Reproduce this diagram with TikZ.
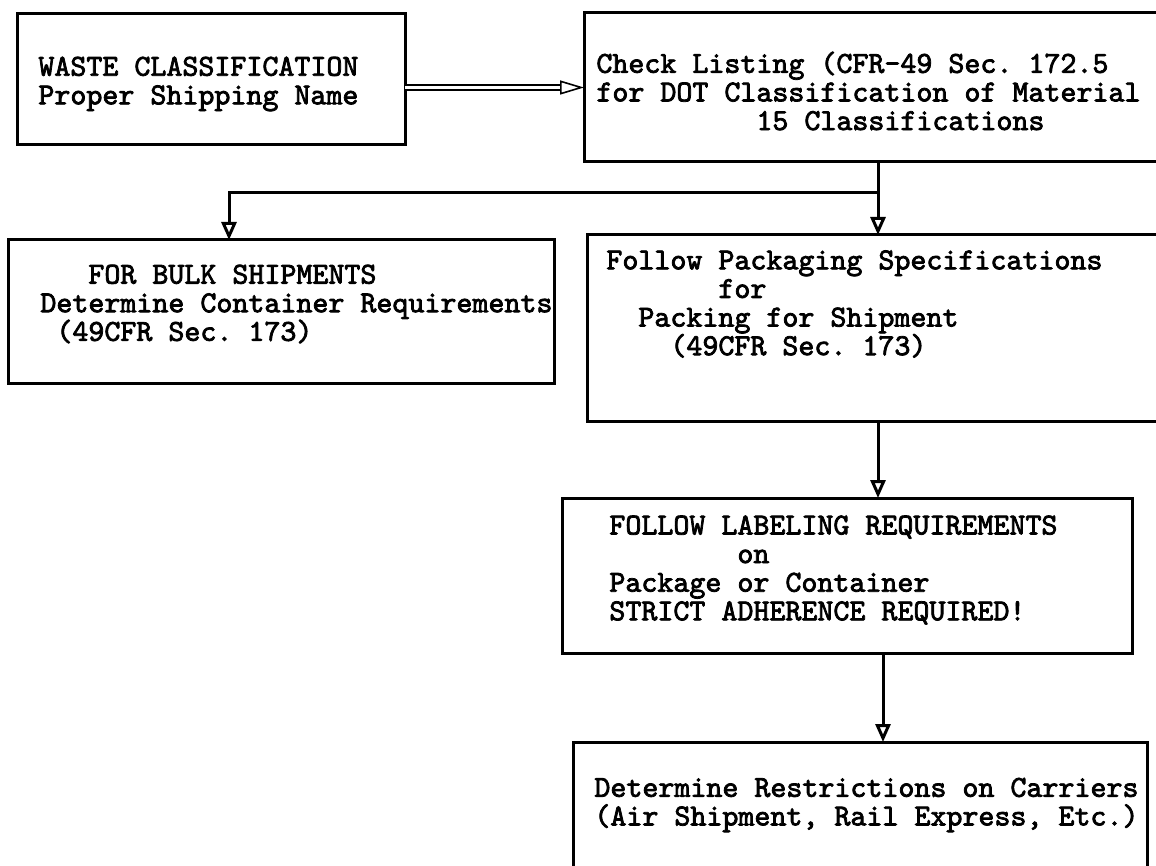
\documentclass[tikz,border=0pt]{standalone}
\usepackage{fontspec}
\newfontfamily\typefont{lmmono10-regular.otf}[FakeBold=2.5]
\usetikzlibrary{arrows.meta}
\newlength\tspw \setlength\tspw{8pt}
\newcommand{\tsp}[1]{\hspace*{#1\tspw}}

\begin{document}
\begin{tikzpicture}[x=0.5pt, y=-0.5pt,
    stepbox/.style={draw, line width=1.5pt, anchor=north west, inner sep=0pt, outer sep=0pt},
    steptext/.style={anchor=west, align=left, inner sep=0pt,
        font=\typefont\fontsize{15.24}{14.3}\selectfont\frenchspacing},
    flow/.style={draw, line width=1.5pt, -{Triangle[open, length=9pt, width=7.5pt]}},
    hollow/.style={draw, line width=0.8pt, double, double distance=1.6pt,
        -{Triangle[open, length=12pt, width=7pt]}}]
    \useasboundingbox (0,0) rectangle (1156,866);
    \clip (0,0) rectangle (1156,866);

    \node[stepbox, minimum width=194pt, minimum height=65.5pt] (waste) at (17,14) {};
    \node[stepbox, minimum width=294pt, minimum height=74.5pt] (check) at (584,13) {};
    \node[stepbox, minimum width=273pt, minimum height=71.5pt] (bulk) at (8,240) {};
    \node[stepbox, minimum width=291pt, minimum height=93pt] (pack) at (587,235) {};
    \node[stepbox, minimum width=285pt, minimum height=77.5pt] (label) at (562,498) {};
    \node[stepbox, minimum width=287pt, minimum height=80pt] (carrier) at (573,742) {};

    \node[steptext] (wastetxt) at (38,84) {WASTE CLASSIFICATION\\Proper Shipping Name};
    \node[steptext] (checktxt) at (596,91) {Check Listing (CFR-49 Sec. 172.5\\for DOT Classification of Material\\\tsp{10}15 Classifications};
    \node[steptext] (bulktxt) at (40,304) {\tsp{3}FOR BULK SHIPMENTS\\Determine Container Requirements\\\tsp{1}(49CFR Sec. 173)};
    \node[steptext] (packtxt) at (606,304) {Follow Packaging Specifications\\\tsp{7}for\\\tsp{2}Packing for Shipment\\\tsp{4}(49CFR Sec. 173)};
    \node[steptext] (labeltxt) at (609,570) {FOLLOW LABELING REQUIREMENTS\\\tsp{8}on\\Package or Container\\STRICT ADHERENCE REQUIRED!};
    \node[steptext] (carriertxt) at (594,805) {Determine Restrictions on Carriers\\(Air Shipment, Rail Express, Etc.)};

    \coordinate (fork) at (878,193);
    \draw[hollow] (waste.east |- check.west) -- (check.west);
    \draw[flow] (check.south) -- (pack.north);
    \draw[flow] (fork) -| ([xshift=-26pt]bulk.north);
    \draw[flow] (pack.south) -- (pack.south |- label.north);
    \draw[flow] ([xshift=18pt]label.south) -- ([xshift=18pt]label.south |- carrier.north);
\end{tikzpicture}
\end{document}
